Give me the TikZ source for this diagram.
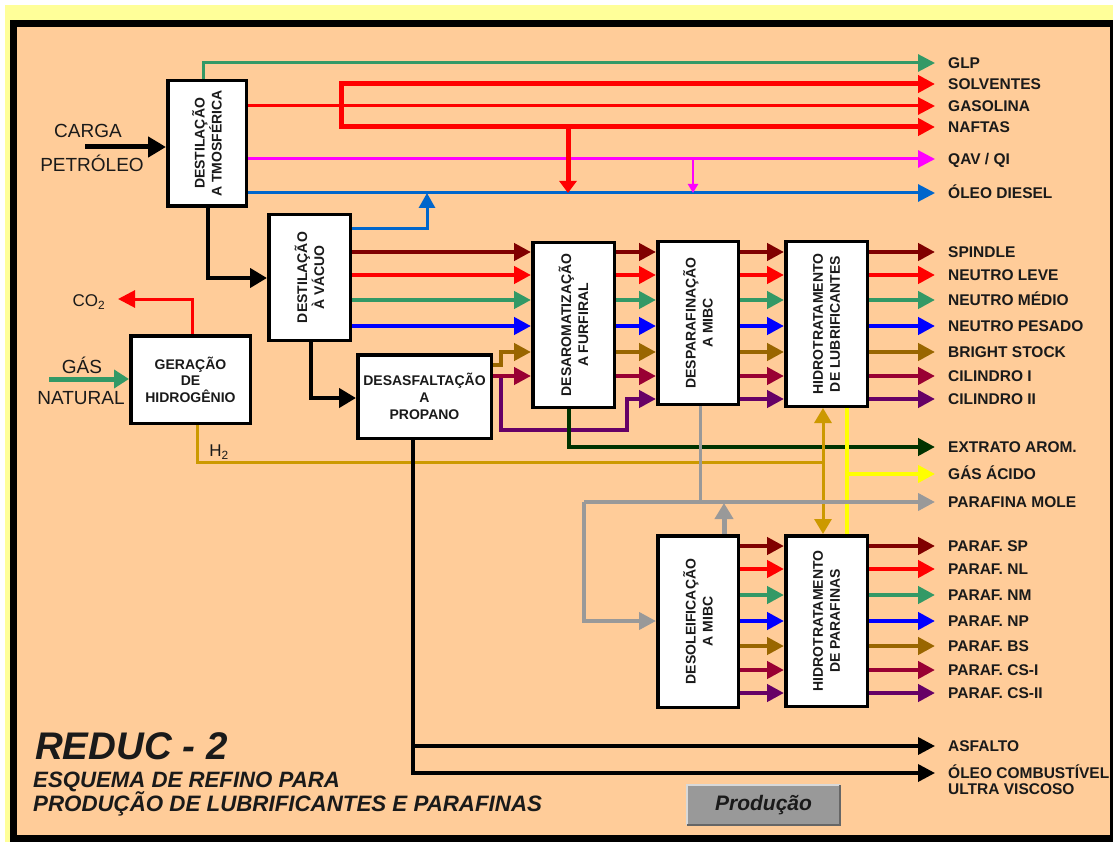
\documentclass[tikz,border=0pt]{standalone}
\usepackage{fontspec}
\setmainfont{Liberation Sans}
\usetikzlibrary{arrows.meta}
\definecolor{cPeach}{HTML}{FFCC99}
\definecolor{cPale}{HTML}{FFFF99}
\definecolor{cGreen}{HTML}{339966}
\definecolor{cRed}{HTML}{FF0000}
\definecolor{cMag}{HTML}{FF00FF}
\definecolor{cDiesel}{HTML}{0066CC}
\definecolor{cSpin}{HTML}{800000}
\definecolor{cBlue}{HTML}{0000FF}
\definecolor{cBrown}{HTML}{996600}
\definecolor{cCyl}{HTML}{990033}
\definecolor{cPurp}{HTML}{660066}
\definecolor{cExt}{HTML}{003300}
\definecolor{cYel}{HTML}{FFFF00}
\definecolor{cGray}{HTML}{999999}
\definecolor{cGold}{HTML}{CC9900}
\definecolor{cBtn}{HTML}{999999}
\definecolor{cText}{HTML}{1A1A1A}
\begin{document}
\begin{tikzpicture}[x=1pt,y=-1pt,
  unitbox/.style={draw=black, line width=3.5pt, fill=white, inner sep=0pt},
  boxtxt/.style={font=\bfseries\fontsize{14}{17}\selectfont, align=center, inner sep=0pt, text=cText},
  rtxt/.style={boxtxt, rotate=90},
  lbl/.style={anchor=west, inner sep=0pt, text height=10.7pt, text depth=0pt, font=\bfseries\fontsize{15.5}{17}\selectfont, text=cText},
  sidetxt/.style={inner sep=0pt, font=\fontsize{19}{22}\selectfont, text=cText},
  tipA/.style={-{Triangle[length=17pt,width=17pt]}},
  flow/.style={line width=4.5pt, tipA},
  thinflow/.style={line width=3pt, tipA},
  titletxt/.style={anchor=base west, inner sep=0pt, text=cText},
]
\useasboundingbox (0,0) rectangle (1113,842);
\fill[white] (0,0) rectangle (1113,842);
\fill[cPale] (5,5) rectangle (1113,842);
\draw[line width=7pt, fill=cPeach] (13.5,23.5) rectangle (1113.5,838.5);

% ---------- process units ----------
\node[unitbox, minimum width=78.5pt, minimum height=125.5pt] (atm) at (207,143.5) {};
\node[unitbox, minimum width=81.5pt, minimum height=125.5pt] (vac) at (309.5,277.5) {};
\node[unitbox, minimum width=119.5pt, minimum height=87.5pt] (ger) at (190.5,379.5) {};
\node[unitbox, minimum width=133.5pt, minimum height=83.5pt] (desasf) at (424.5,396.5) {};
\node[unitbox, minimum width=81.5pt, minimum height=164.5pt] (furf) at (573.5,325) {};
\node[unitbox, minimum width=80.5pt, minimum height=162.5pt] (despar) at (698,323) {};
\node[unitbox, minimum width=81.5pt, minimum height=164.5pt] (hlub) at (826.5,324) {};
\node[unitbox, minimum width=80.5pt, minimum height=171.5pt] (desol) at (698,621.5) {};
\node[unitbox, minimum width=81.5pt, minimum height=170.5pt] (hpar) at (826.5,621) {};

\node[rtxt] (tatm) at (atm) {DESTILAÇÃO\\A TMOSFÉRICA};
\node[rtxt] (tvac) at (vac) {DESTILAÇÃO\\À VÁCUO};
\node[boxtxt, font=\bfseries\fontsize{14}{16.5}\selectfont] (tger) at (ger) {GERAÇÃO\\DE\\HIDROGÊNIO};
\node[boxtxt, font=\bfseries\fontsize{14}{17}\selectfont] (tdesasf) at (desasf) {DESASFALTAÇÃO\\A\\PROPANO};
\node[rtxt] (tfurf) at (furf) {DESAROMATIZAÇÃO\\A FURFIRAL};
\node[rtxt] (tdespar) at (despar) {DESPARAFINAÇÃO\\A MIBC};
\node[rtxt] (thlub) at (hlub) {HIDROTRATAMENTO\\DE LUBRIFICANTES};
\node[rtxt] (tdesol) at (desol) {DESOLEIFICAÇÃO\\A MIBC};
\node[rtxt] (thpar) at (hpar) {HIDROTRATAMENTO\\DE PARAFINAS};

% ---------- right labels ----------
\foreach \n/\y/\t in {lglp/63/GLP, lsol/84/SOLVENTES, lgas/106/GASOLINA, lnaf/127/NAFTAS,
  lqav/159/{QAV / QI}, ldie/193/ÓLEO DIESEL,
  lspi/252/SPINDLE, lnl/275/NEUTRO LEVE, lnm/300/NEUTRO MÉDIO, lnp/326/NEUTRO PESADO,
  lbs/352/BRIGHT STOCK, lc1/376/CILINDRO I, lc2/399/CILINDRO II,
  lext/447/EXTRATO AROM., lga/474/GÁS ÁCIDO, lpm/502/PARAFINA MOLE,
  lpsp/546/PARAF. SP, lpnl/569/PARAF. NL, lpnm/595/PARAF. NM, lpnp/621/PARAF. NP,
  lpbs/646/PARAF. BS, lpc1/670/PARAF. CS-I, lpc2/693/PARAF. CS-II,
  lasf/746/ASFALTO, loc/773/ÓLEO COMBUSTÍVEL, luv/789/ULTRA VISCOSO}
  \node[lbl] (\n) at (948,\y) {\t};

% ---------- left side ----------
\node[sidetxt] (lcarga) at (88,131) {CARGA};
\node[sidetxt] (lpet) at (92,163) {PETRÓLEO};
\coordinate (cin) at (85,147);
\draw[line width=5pt, -{Triangle[length=18pt,width=20pt]}] (cin) -- (atm.west |- cin);

\node[sidetxt] (lgn1) at (82,365) {GÁS};
\node[sidetxt] (lgn2) at (81,398) {NATURAL};
\coordinate (gin) at (49,379);
\draw[line width=5pt, cGreen, -{Triangle[length=15pt,width=18pt]}] (gin) -- (ger.west |- gin);

\node[sidetxt, font=\fontsize{17}{20}\selectfont] (lco2) at (89,302) {CO\textsubscript{2}};
\coordinate (co2tip) at (118,299);
\draw[line width=3pt, cRed, tipA] (192,0 |- ger.north) |- (co2tip);

\node[sidetxt, font=\fontsize{17}{20}\selectfont] (lh2) at (219,452) {H\textsubscript{2}};

% ---------- atmospheric products ----------
\draw[thinflow, draw=cGreen] (203,0 |- atm.north) |- ([xshift=-13pt]lglp.west);
\draw[thinflow, draw=cRed] (atm.east |- lgas.west) -- ([xshift=-13pt]lgas.west);
\coordinate (rj) at (341,106);
\draw[line width=5pt, cRed, tipA] (rj) |- ([xshift=-13pt]lsol.west);
\draw[line width=5pt, cRed, tipA] (rj) |- ([xshift=-13pt]lnaf.west);
\draw[thinflow, draw=cMag] (atm.east |- lqav.west) -- ([xshift=-13pt]lqav.west);
\draw[thinflow, draw=cDiesel] (atm.east |- ldie.west) -- ([xshift=-13pt]ldie.west);
\coordinate (rd) at (568,127);
\draw[line width=5pt, cRed, -{Triangle[length=12pt,width=17pt]}] (rd) -- (rd |- ldie.west);
\coordinate (md) at (693,159);
\draw[line width=2.5pt, cMag, -{Triangle[length=9pt,width=10pt]}] (md) -- (md |- ldie.west);
\coordinate (bu) at (427,229);
\draw[line width=3pt, cDiesel, -{Triangle[length=15pt,width=16pt]}] (vac.east |- bu) -| (bu |- ldie.west);

% ---------- black feed lines ----------
\draw[line width=4.5pt, -{Triangle[length=17pt,width=19pt]}] (208,0 |- atm.south) |- (vac.west |- 0,278);
\draw[line width=4.5pt, -{Triangle[length=17pt,width=19pt]}] (311,0 |- vac.south) |- (desasf.west |- 0,398);

% ---------- vacuum distillates ----------
\foreach \y/\c in {252/cSpin,275/cRed,300/cGreen,326/cBlue}
  \draw[flow, draw=\c] (vac.east |- 0,\y) -- (furf.west |- 0,\y);

% ---------- deasphalted oil ----------
\draw[flow, draw=cPurp] (desasf.east |- 0,376) -- (501,376) -- (501,430) -- (627,430) -- (627,399) -- (despar.west |- 0,399);
\draw[flow, draw=cBrown] (desasf.east |- 0,365) -- (501,365) -- (501,352) -- (furf.west |- 0,352);
\draw[flow, draw=cCyl] (desasf.east |- 0,376) -- (furf.west |- 0,376);

% ---------- lube chain ----------
\foreach \y/\c in {252/cSpin,275/cRed,300/cGreen,326/cBlue,352/cBrown,376/cCyl}
  \draw[flow, draw=\c] (furf.east |- 0,\y) -- (despar.west |- 0,\y);
\foreach \y/\c in {252/cSpin,275/cRed,300/cGreen,326/cBlue,352/cBrown,376/cCyl,399/cPurp}
  \draw[flow, draw=\c] (despar.east |- 0,\y) -- (hlub.west |- 0,\y);
\foreach \n/\c in {lspi/cSpin,lnl/cRed,lnm/cGreen,lnp/cBlue,lbs/cBrown,lc1/cCyl,lc2/cPurp}
  \draw[flow, draw=\c] (hlub.east |- \n.west) -- ([xshift=-13pt]\n.west);

% ---------- extract ----------
\draw[flow, draw=cExt] (569,0 |- furf.south) |- ([xshift=-13pt]lext.west);

% ---------- hydrogen ----------
\draw[line width=3pt, cGold] (197,0 |- ger.south) |- (823,462);
\draw[line width=3pt, cGold, {Triangle[length=15pt,width=17pt]}-{Triangle[length=15pt,width=17pt]}] (823,0 |- hlub.south) -- (823,0 |- hpar.north);

% ---------- acid gas ----------
\draw[line width=4pt, cYel] (847,0 |- hlub.south) -- (847,0 |- hpar.north);
\draw[line width=4pt, cYel, tipA] (847,0 |- lga.west) -- ([xshift=-13pt]lga.west);

% ---------- slack wax ----------
\draw[line width=3pt, cGray] (700,0 |- despar.south) -- (700,502);
\coordinate (gj) at (584,502);
\draw[line width=4pt, cGray, tipA] (gj) -- ([xshift=-13pt]lpm.west);
\draw[line width=4pt, cGray, tipA] (gj) |- (desol.west |- 0,621);
\draw[line width=5pt, cGray, -{Triangle[length=16pt,width=18pt]}] (724,0 |- desol.north) -- (724,503);

% ---------- paraffins ----------
\foreach \y/\c in {546/cSpin,569/cRed,595/cGreen,621/cBlue,646/cBrown,670/cCyl,693/cPurp}
  \draw[flow, draw=\c] (desol.east |- 0,\y) -- (hpar.west |- 0,\y);
\foreach \n/\c in {lpsp/cSpin,lpnl/cRed,lpnm/cGreen,lpnp/cBlue,lpbs/cBrown,lpc1/cCyl,lpc2/cPurp}
  \draw[flow, draw=\c] (hpar.east |- \n.west) -- ([xshift=-13pt]\n.west);

% ---------- residue ----------
\draw[line width=3.5pt, tipA] (413,0 |- desasf.south) |- ([xshift=-13pt]loc.west);
\draw[line width=3.5pt, tipA] (413,0 |- lasf.west) -- ([xshift=-13pt]lasf.west);

% ---------- title ----------
\node[titletxt, font=\bfseries\itshape\fontsize{38.5}{42}\selectfont] (title) at (35,759) {REDUC - 2};
\node[titletxt, font=\bfseries\itshape\fontsize{22.2}{24}\selectfont] (sub1) at (33,787) {ESQUEMA DE REFINO PARA};
\node[titletxt, font=\bfseries\itshape\fontsize{22.3}{24}\selectfont] (sub2) at (33,811) {PRODUÇÃO DE LUBRIFICANTES E PARAFINAS};

% ---------- button ----------
\node[fill=cBtn, minimum width=153pt, minimum height=40pt, inner sep=0pt, text=cText,
      font=\bfseries\itshape\fontsize{21}{24}\selectfont] (btn) at (763.5,805) {Produção};
\draw[line width=1.5pt, black!15] (btn.south west) |- (btn.north east);
\draw[line width=1.5pt, black!60] (btn.south west) -| (btn.north east);
\end{tikzpicture}
\end{document}
